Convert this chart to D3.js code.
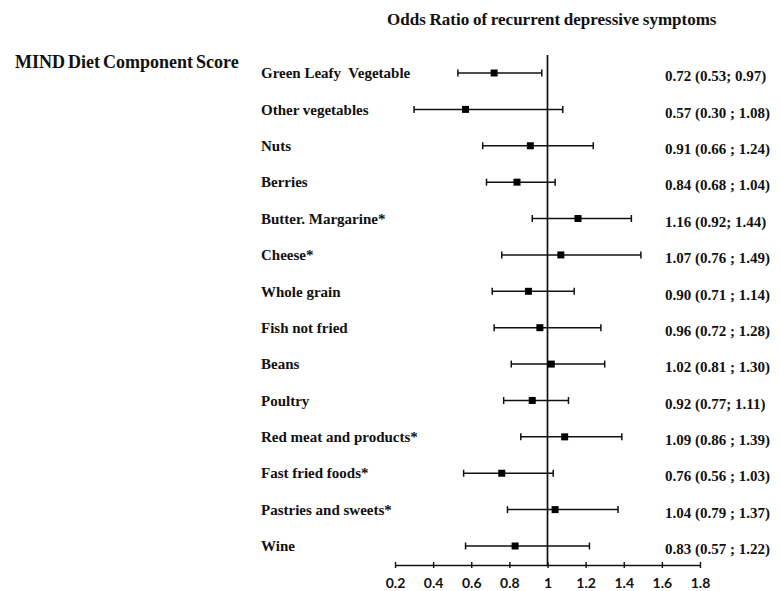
<!DOCTYPE html>
<html>
<head>
<meta charset="utf-8">
<script src="https://cdn.jsdelivr.net/npm/d3@7"></script>
<style>
  body { margin: 0; background: #fff; }
  svg { display: block; }
</style>
</head>
<body>
<div id="chart"></div>
<script>
const width = 780,
	height = 591;

const serifFont = "'Liberation Serif', 'Times New Roman', Tinos, 'DejaVu Serif', serif";

// MIND diet components (top to bottom)
const components = [
	"Green Leafy  Vegetable",
	"Other vegetables",
	"Nuts",
	"Berries",
	"Butter. Margarine*",
	"Cheese*",
	"Whole grain",
	"Fish not fried",
	"Beans",
	"Poultry",
	"Red meat and products*",
	"Fast fried foods*",
	"Pastries and sweets*",
	"Wine"
];

const oddsRatio = [0.72, 0.57, 0.91, 0.84, 1.16, 1.07, 0.90, 0.96, 1.02, 0.92, 1.09, 0.76, 1.04, 0.83];
const ciLower = [0.53, 0.30, 0.66, 0.68, 0.92, 0.76, 0.71, 0.72, 0.81, 0.77, 0.86, 0.56, 0.79, 0.57];
const ciUpper = [0.97, 1.08, 1.24, 1.04, 1.44, 1.49, 1.14, 1.28, 1.30, 1.11, 1.39, 1.03, 1.37, 1.22];

const ciLabels = [
	"0.72 (0.53; 0.97)",
	"0.57 (0.30 ; 1.08)",
	"0.91 (0.66 ; 1.24)",
	"0.84 (0.68 ; 1.04)",
	"1.16 (0.92; 1.44)",
	"1.07 (0.76 ; 1.49)",
	"0.90 (0.71 ; 1.14)",
	"0.96 (0.72 ; 1.28)",
	"1.02 (0.81 ; 1.30)",
	"0.92 (0.77; 1.11)",
	"1.09 (0.86 ; 1.39)",
	"0.76 (0.56 ; 1.03)",
	"1.04 (0.79 ; 1.37)",
	"0.83 (0.57 ; 1.22)"
];

const xTicks = [0.2, 0.4, 0.6, 0.8, 1, 1.2, 1.4, 1.6, 1.8];

const rows = components.map((name, i) => ({
	name: name,
	or: oddsRatio[i],
	lo: ciLower[i],
	hi: ciUpper[i],
	label: ciLabels[i]
}));

const x = d3.scaleLinear().domain([0.2, 1.8]).range([395, 700]);
const y = d3.scalePoint().domain(components).range([73, 546]);
const axisY = 565;

const svg = d3
	.select("#chart")
	.append("svg")
	.attr("width", width)
	.attr("height", height);

const serifText = (sel) =>
	sel.style("font-family", serifFont)
	.style("font-weight", "bold")
	.attr("fill", "#111");

// titles
svg.append("text")
	.attr("x", 387)
	.attr("y", 25)
	.style("font-size", "17px")
	.style("word-spacing", "-0.5px")
	.call(serifText)
	.text("Odds Ratio of recurrent depressive symptoms");

svg.append("text")
	.attr("x", 15)
	.attr("y", 68)
	.style("font-size", "18px")
	.style("word-spacing", "-1.5px")
	.call(serifText)
	.text("MIND Diet Component Score");

// reference line at OR = 1
svg.append("line")
	.attr("x1", x(1))
	.attr("x2", x(1))
	.attr("y1", 55)
	.attr("y2", axisY)
	.attr("stroke", "#111")
	.attr("stroke-width", 1.7);

// x axis
const xAxis = svg
	.append("g")
	.attr("transform", `translate(0,${axisY})`)
	.call(
		d3.axisBottom(x)
		.tickValues(xTicks)
		.tickFormat((d) => d3.format("")(d))
		.tickSizeOuter(0)
		.tickSizeInner(3)
		.tickPadding(10)
	);

xAxis.select(".domain").attr("stroke", "#111").attr("stroke-width", 1.6);
xAxis.selectAll(".tick line")
	.attr("y1", -3)
	.attr("y2", 3)
	.attr("stroke", "#111")
	.attr("stroke-width", 1.4);
xAxis.selectAll(".tick text")
	.attr("fill", "#111")
	.style("font-family", "Lato, 'Open Sans', sans-serif")
	.style("font-weight", "bold")
	.style("font-size", "14px");

// rows
const row = svg
	.append("g")
	.selectAll("g")
	.data(rows)
	.join("g")
	.attr("transform", (d) => `translate(0,${y(d.name)})`);

row.append("text")
	.attr("x", 261)
	.attr("dy", "0.35em")
	.style("font-size", "15px")
	.style("white-space", "pre")
	.call(serifText)
	.text((d) => d.name);

row.append("line")
	.attr("x1", (d) => x(d.lo))
	.attr("x2", (d) => x(d.hi))
	.attr("stroke", "#111")
	.attr("stroke-width", 1.5);

row.append("line")
	.attr("x1", (d) => x(d.lo))
	.attr("x2", (d) => x(d.lo))
	.attr("y1", -3.5)
	.attr("y2", 3.5)
	.attr("stroke", "#111")
	.attr("stroke-width", 1.5);

row.append("line")
	.attr("x1", (d) => x(d.hi))
	.attr("x2", (d) => x(d.hi))
	.attr("y1", -3.5)
	.attr("y2", 3.5)
	.attr("stroke", "#111")
	.attr("stroke-width", 1.5);

row.append("rect")
	.attr("x", (d) => x(d.or) - 3.5)
	.attr("y", -3.5)
	.attr("width", 7)
	.attr("height", 7)
	.attr("fill", "#000");

row.append("text")
	.attr("x", 665)
	.attr("y", 3)
	.attr("dy", "0.35em")
	.style("font-size", "15px")
	.style("white-space", "pre")
	.call(serifText)
	.text((d) => d.label);
</script>
</body>
</html>
